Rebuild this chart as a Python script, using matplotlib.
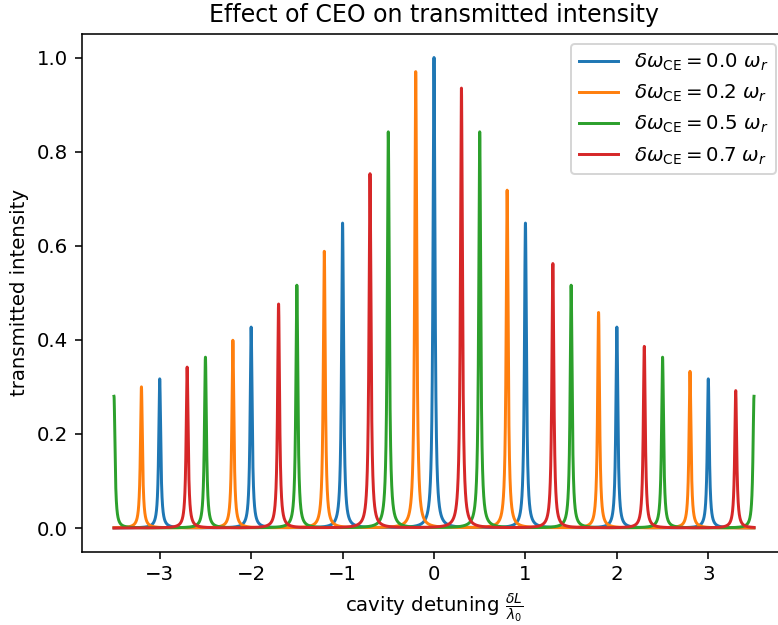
import numpy as np
import matplotlib
matplotlib.use("Agg")
import matplotlib.pyplot as plt

# CEO offsets (in units of the repetition frequency) for each curve
ceo_offsets = [0.0, 0.2, 0.5, 0.7]
series_labels = [r"$\delta\omega_{\mathrm{CE}} = %.1f$ $\omega_r$" % d for d in ceo_offsets]

# resonance positions (cavity detuning) and peak transmission for each curve
peak_pos = {
    0.0: [-3.0, -2.0, -1.0, 0.0, 1.0, 2.0, 3.0],
    0.2: [-3.2, -2.2, -1.2, -0.2, 0.8, 1.8, 2.8],
    0.5: [-3.5, -2.5, -1.5, -0.5, 0.5, 1.5, 2.5, 3.5],
    0.7: [-2.7, -1.7, -0.7, 0.3, 1.3, 2.3, 3.3],
}
peak_height = {
    0.0: [0.317, 0.427, 0.648, 1.000, 0.648, 0.427, 0.317],
    0.2: [0.300, 0.399, 0.588, 0.970, 0.718, 0.458, 0.333],
    0.5: [0.280, 0.363, 0.516, 0.842, 0.842, 0.516, 0.363, 0.280],
    0.7: [0.342, 0.476, 0.753, 0.935, 0.562, 0.386, 0.292],
}

half_width = 0.013  # lorentzian half width of a cavity resonance
detuning = np.linspace(-3.5, 3.5, 28001)


def transmission(x, centres, heights, g=half_width):
    out = np.zeros_like(x)
    for c, h in zip(centres, heights):
        out += h / (1 + ((x - c) / g) ** 2)
    return out


dpi = 142
fig = plt.figure(figsize=(778 / dpi, 625 / dpi), dpi=dpi)
ax = fig.add_axes([82 / 778, 73.5 / 625, 704 / 778, 517.5 / 625])

for d, lab in zip(ceo_offsets, series_labels):
    ax.plot(detuning, transmission(detuning, peak_pos[d], peak_height[d]), label=lab)

ax.set_title("Effect of CEO on transmitted intensity")
ax.set_xlabel(r"cavity detuning $\frac{\delta L}{\lambda_0}$")
ax.set_ylabel("transmitted intensity")
ax.legend(loc="upper right")

fig.savefig("out.png", dpi=dpi)
